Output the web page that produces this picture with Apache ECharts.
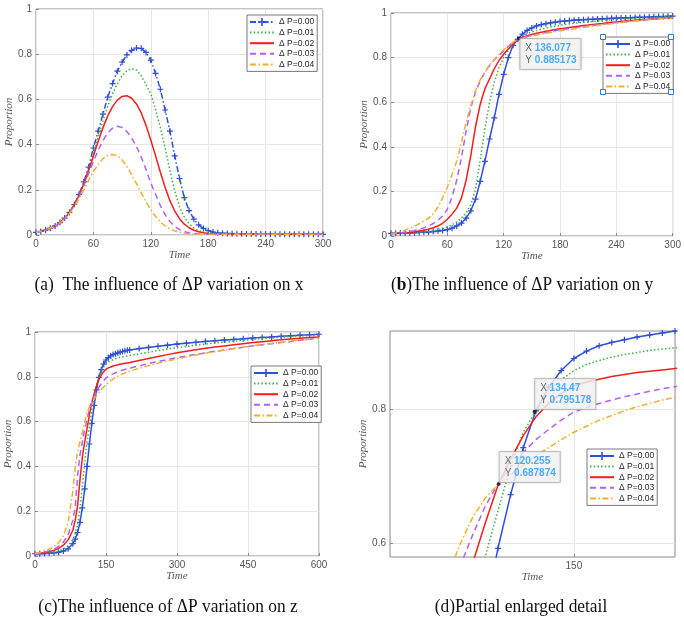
<!DOCTYPE html>
<html>
<head>
<meta charset="utf-8">
<script src="https://cdn.jsdelivr.net/npm/echarts@6/dist/echarts.min.js"></script>
<style>
html, body { margin: 0; padding: 0; background: #fff; }
#main { width: 684px; height: 619px; }
</style>
</head>
<body>
<div id="main"></div>
<script>
// legend names, one per dP value
var legendNames = ['Δ P=0.00', 'Δ P=0.01', 'Δ P=0.02', 'Δ P=0.03', 'Δ P=0.04'];

// time axis for (a) and (b)
var tAB = [0,5,10,15,20,25,30,35,40,45,50,55,60,65,70,75,80,85,90,95,100,105,110,115,120,125,130,135,140,145,
  150,155,160,165,170,175,180,185,190,195,200,205,210,215,220,225,230,235,240,245,250,255,260,265,270,275,280,285,290,295,300];

// (a) proportion x
var xP000 = [0.012,0.016,0.022,0.030,0.040,0.055,0.075,0.100,0.135,0.180,
  0.235,0.300,0.385,0.460,0.535,0.610,0.670,0.725,0.765,0.797,
  0.817,0.827,0.826,0.808,0.774,0.715,0.645,0.553,0.460,0.350,
  0.250,0.165,0.108,0.070,0.045,0.029,0.019,0.013,0.010,0.008,
  0.007,0.006,0.005,0.005,0.004,0.004,0.004,0.004,0.004,0.003,
  0.003,0.003,0.003,0.003,0.003,0.003,0.003,0.003,0.003,0.003,0.003];
var xP001 = [0.012,0.016,0.022,0.030,0.040,0.055,0.075,0.100,0.134,0.178,
  0.230,0.292,0.365,0.435,0.505,0.570,0.625,0.670,0.705,0.727,
  0.736,0.730,0.705,0.665,0.625,0.555,0.475,0.385,0.285,0.195,
  0.125,0.080,0.050,0.031,0.019,0.012,0.008,0.006,0.005,0.004,
  0.004,0.003,0.003,0.003,0.003,0.003,0.003,0.003,0.003,0.003,
  0.003,0.003,0.003,0.003,0.003,0.003,0.003,0.003,0.003,0.003,0.003];
var xP002 = [0.012,0.016,0.022,0.030,0.040,0.055,0.075,0.100,0.134,0.176,
  0.226,0.285,0.350,0.415,0.475,0.527,0.568,0.597,0.613,0.616,
  0.605,0.580,0.540,0.485,0.420,0.350,0.278,0.210,0.152,0.106,
  0.072,0.048,0.032,0.021,0.014,0.010,0.007,0.005,0.004,0.004,
  0.003,0.003,0.003,0.003,0.003,0.003,0.003,0.003,0.003,0.003,
  0.003,0.003,0.003,0.003,0.003,0.003,0.003,0.003,0.003,0.003,0.003];
var xP003 = [0.012,0.016,0.022,0.030,0.040,0.054,0.073,0.098,0.130,0.170,
  0.218,0.272,0.325,0.375,0.418,0.452,0.473,0.481,0.476,0.458,
  0.430,0.392,0.345,0.290,0.230,0.180,0.130,0.090,0.060,0.038,
  0.024,0.015,0.010,0.007,0.005,0.004,0.003,0.003,0.003,0.003,
  0.003,0.003,0.003,0.003,0.003,0.003,0.003,0.003,0.003,0.003,
  0.003,0.003,0.003,0.003,0.003,0.003,0.003,0.003,0.003,0.003,0.003];
var xP004 = [0.012,0.016,0.022,0.030,0.040,0.053,0.071,0.095,0.125,0.160,
  0.200,0.242,0.280,0.313,0.338,0.352,0.356,0.350,0.332,0.303,
  0.267,0.227,0.186,0.147,0.112,0.082,0.058,0.040,0.027,0.018,
  0.012,0.008,0.006,0.004,0.003,0.003,0.003,0.003,0.003,0.003,
  0.003,0.003,0.003,0.003,0.003,0.003,0.003,0.003,0.003,0.003,
  0.003,0.003,0.003,0.003,0.003,0.003,0.003,0.003,0.003,0.003,0.003];

// (b) proportion y
var yP000 = [0.012,0.012,0.013,0.013,0.014,0.015,0.016,0.017,0.018,0.020,
  0.022,0.025,0.029,0.035,0.045,0.058,0.080,0.113,0.165,0.245,
  0.335,0.435,0.530,0.635,0.725,0.800,0.855,0.882,0.905,0.922,
  0.933,0.942,0.948,0.952,0.956,0.959,0.962,0.964,0.966,0.968,
  0.969,0.970,0.971,0.972,0.973,0.974,0.975,0.976,0.977,0.978,
  0.978,0.979,0.980,0.981,0.981,0.982,0.983,0.984,0.984,0.985,0.986];
var yP001 = [0.010,0.011,0.011,0.012,0.013,0.014,0.016,0.018,0.020,0.023,
  0.027,0.033,0.040,0.050,0.063,0.080,0.105,0.140,0.210,0.340,
  0.480,0.600,0.690,0.755,0.800,0.835,0.860,0.882,0.897,0.907,
  0.915,0.921,0.927,0.932,0.937,0.941,0.945,0.948,0.951,0.954,
  0.956,0.958,0.960,0.962,0.964,0.966,0.968,0.970,0.971,0.973,
  0.974,0.975,0.976,0.977,0.978,0.979,0.980,0.982,0.983,0.985,0.986];
var yP002 = [0.010,0.011,0.012,0.014,0.016,0.019,0.022,0.026,0.030,0.037,
  0.045,0.057,0.075,0.098,0.125,0.170,0.250,0.360,0.490,0.590,
  0.660,0.705,0.750,0.787,0.815,0.840,0.860,0.881,0.891,0.898,
  0.904,0.909,0.914,0.918,0.922,0.926,0.929,0.932,0.935,0.938,
  0.941,0.944,0.946,0.949,0.951,0.953,0.956,0.958,0.960,0.962,
  0.964,0.965,0.967,0.969,0.970,0.972,0.974,0.975,0.977,0.978,0.980];
var yP003 = [0.010,0.012,0.014,0.017,0.020,0.024,0.030,0.037,0.045,0.056,
  0.070,0.090,0.120,0.175,0.250,0.350,0.470,0.575,0.645,0.695,
  0.735,0.765,0.790,0.810,0.830,0.850,0.866,0.882,0.889,0.895,
  0.900,0.905,0.909,0.913,0.917,0.921,0.924,0.927,0.930,0.933,
  0.936,0.939,0.942,0.944,0.947,0.950,0.952,0.955,0.957,0.959,
  0.961,0.963,0.965,0.967,0.969,0.970,0.972,0.974,0.976,0.977,0.979];
var yP004 = [0.010,0.014,0.020,0.027,0.035,0.044,0.055,0.067,0.080,0.100,
  0.130,0.170,0.220,0.275,0.335,0.420,0.510,0.585,0.650,0.700,
  0.735,0.765,0.790,0.815,0.835,0.853,0.869,0.882,0.887,0.892,
  0.897,0.901,0.905,0.909,0.913,0.916,0.920,0.923,0.926,0.929,
  0.932,0.935,0.938,0.941,0.944,0.947,0.950,0.952,0.955,0.957,
  0.960,0.962,0.964,0.966,0.968,0.970,0.972,0.974,0.975,0.977,0.978];

// time axis for (c) and (d)
var tCD = [0,10,20,30,40,50,60,70,80,85,90,95,100,105,110,115,120,125,130,135,140,145,150,155,160,165,170,175,180,185,190,195,200,
  220,240,260,280,300,320,340,360,380,400,420,440,460,480,500,520,540,560,580,600];

// (c) proportion z, (d) is a zoom of the same curves
var zP000 = [0.010,0.010,0.011,0.012,0.014,0.017,0.022,0.032,0.055,
  0.075,0.105,0.150,0.215,0.300,0.400,0.500,0.592,0.672,0.742,0.797,0.832,0.857,0.875,0.886,0.894,0.899,0.903,0.907,0.910,0.913,0.916,0.918,0.920,
  0.926,0.931,0.936,0.941,0.946,0.950,0.954,0.958,0.961,0.964,0.967,0.970,0.973,0.976,0.978,0.981,0.983,0.986,0.988,0.990];
var zP001 = [0.010,0.011,0.012,0.014,0.017,0.022,0.030,0.045,0.075,
  0.100,0.140,0.210,0.310,0.420,0.510,0.580,0.648,0.715,0.765,0.797,0.823,0.843,0.857,0.866,0.872,0.877,0.881,0.884,0.887,0.889,0.891,0.893,0.895,
  0.903,0.910,0.917,0.924,0.930,0.936,0.941,0.946,0.951,0.955,0.959,0.963,0.967,0.971,0.974,0.977,0.980,0.982,0.984,0.986];
var zP002 = [0.010,0.012,0.015,0.019,0.025,0.034,0.048,0.072,0.115,
  0.160,0.225,0.340,0.440,0.510,0.570,0.630,0.686,0.725,0.760,0.788,0.808,0.823,0.834,0.840,0.844,0.848,0.851,0.854,0.856,0.858,0.860,0.862,0.864,
  0.873,0.882,0.891,0.899,0.907,0.914,0.921,0.927,0.933,0.938,0.943,0.948,0.953,0.957,0.961,0.965,0.969,0.972,0.975,0.978];
var zP003 = [0.010,0.013,0.017,0.023,0.031,0.043,0.062,0.095,0.160,
  0.220,0.360,0.450,0.510,0.565,0.612,0.655,0.688,0.713,0.735,0.754,0.769,0.783,0.795,0.802,0.808,0.813,0.818,0.822,0.826,0.830,0.833,0.836,0.839,
  0.849,0.859,0.868,0.877,0.885,0.893,0.900,0.907,0.914,0.920,0.926,0.932,0.938,0.943,0.948,0.953,0.958,0.963,0.968,0.972];
var zP004 = [0.010,0.015,0.021,0.030,0.042,0.060,0.090,0.150,0.290,
  0.400,0.465,0.510,0.550,0.598,0.638,0.667,0.687,0.702,0.716,0.730,0.742,0.754,0.765,0.774,0.783,0.790,0.797,0.803,0.808,0.813,0.817,0.821,0.825,
  0.838,0.850,0.861,0.871,0.880,0.889,0.897,0.905,0.912,0.919,0.926,0.932,0.938,0.944,0.949,0.954,0.959,0.964,0.968,0.972];

// data tips shown in the figure
var tipB = [136.077, 0.885173];
var tipD1 = [134.47, 0.795178];
var tipD2 = [120.255, 0.687874];

// tick values
var ticksA = { min: 0, max: 300, interval: 60 };
var ticksC = { min: 0, max: 600, interval: 150 };
var ticksDx = [150];
var ticksDy = [0.6, 0.8];
var rangeD = { xmin: 77.3, xmax: 190, ymin: 0.579, ymax: 0.916 };

var captions = [
  '(a)  The influence of ΔP variation on x',
  '({b|b})The influence of ΔP variation on y',
  '(c)The influence of ΔP variation on z',
  '(d)Partial enlarged detail'
];

var colors = ['#2f4fd4', '#3cb043', '#f41d1d', '#b060ff', '#eeb030'];
var dashes = ['solid', [1.5, 2.2], 'solid', [6, 4], [6, 2.5, 1.5, 2.5]];
var plusIcon = 'path://M4,0H6V4H10V6H6V10H4V6H0V4H4Z';
var boxColor = '#8a8a8a';
var sansFont = '"Liberation Sans", Arial, sans-serif';
var serifFont = '"Liberation Serif", "Times New Roman", serif';

function pairs(t, v) {
  return t.map(function (x, i) { return [x, v[i]]; });
}

function lineSeries(gi, t, list, blueType) {
  return list.map(function (v, k) {
    var s = {
      name: legendNames[k],
      type: 'line',
      xAxisIndex: gi,
      yAxisIndex: gi,
      data: pairs(t, v),
      symbol: 'none',
      silent: true,
      z: 2 + k,
      lineStyle: { color: colors[k], width: 1.5, type: dashes[k] },
      itemStyle: { color: colors[k] }
    };
    if (k === 0) {
      s.symbol = plusIcon;
      s.symbolSize = 6;
      s.showSymbol = true;
      s.showAllSymbol = true;
      s.lineStyle.type = blueType;
    }
    return s;
  });
}

function tipSeries(gi, pt, pos) {
  return {
    type: 'scatter',
    xAxisIndex: gi,
    yAxisIndex: gi,
    data: [pt],
    symbolSize: 4,
    silent: true,
    z: 20,
    itemStyle: { color: '#111' },
    label: {
      show: true,
      position: pos,
      backgroundColor: '#f8f8f8',
      borderColor: '#b8b8b8',
      borderWidth: 1,
      padding: [3, 4, 3, 5],
      shadowColor: 'rgba(0,0,0,0.15)',
      shadowBlur: 3,
      formatter: function (p) {
        return '{k|X }{v|' + p.value[0] + '}\n{k|Y }{v|' + p.value[1] + '}';
      },
      rich: {
        k: { color: '#444', fontSize: 10, fontFamily: sansFont, lineHeight: 12 },
        v: { color: '#1e9bff', fontSize: 10, fontWeight: 'bold', fontFamily: sansFont, lineHeight: 12 }
      }
    }
  };
}

function xAxisOf(gi, extra) {
  var ax = {
    type: 'value',
    gridIndex: gi,
    name: 'Time',
    nameLocation: 'middle',
    nameGap: 15,
    nameTextStyle: { fontFamily: serifFont, fontStyle: 'italic', fontSize: 11, color: '#555' },
    axisLine: { show: false },
    axisTick: { show: true, inside: true, length: 3, lineStyle: { color: boxColor } },
    axisLabel: { color: '#555', fontSize: 10, margin: 4, fontFamily: sansFont },
    splitLine: { show: true, lineStyle: { color: '#e6e6e6', width: 1 } }
  };
  return Object.assign(ax, extra);
}

function yAxisOf(gi, gap, extra) {
  var ax = {
    type: 'value',
    gridIndex: gi,
    name: 'Proportion',
    nameLocation: 'middle',
    nameGap: gap,
    nameTextStyle: { fontFamily: serifFont, fontStyle: 'italic', fontSize: 11, color: '#555' },
    axisLine: { show: false },
    axisTick: { show: true, inside: true, length: 3, lineStyle: { color: boxColor } },
    axisLabel: { color: '#555', fontSize: 10, margin: 4, fontFamily: sansFont },
    splitLine: { show: true, lineStyle: { color: '#e6e6e6', width: 1 } }
  };
  return Object.assign(ax, extra);
}

function legendOf(left, top, solidBlue) {
  var data = legendNames.map(function (n, k) {
    if (k === 0) {
      return solidBlue ? { name: n, lineStyle: { type: 'solid' } } : { name: n };
    }
    // plain lines: no symbol in the legend sample
    return { name: n, itemStyle: { opacity: 0 } };
  });
  return {
    data: data,
    orient: 'vertical',
    left: left,
    top: top,
    itemWidth: 24,
    itemHeight: 10,
    itemGap: 0.6,
    padding: [2, 3, 2, 2],
    backgroundColor: '#fff',
    borderColor: '#555',
    borderWidth: 0.8,
    selectedMode: false,
    textStyle: { fontSize: 8.5, lineHeight: 10, color: '#222', fontFamily: sansFont }
  };
}

var gridBase = { show: true, borderColor: boxColor, borderWidth: 1, backgroundColor: 'transparent', containLabel: false };

var series = []
  .concat(lineSeries(0, tAB, [xP000, xP001, xP002, xP003, xP004], [6, 2.5, 1.5, 2.5]))
  .concat(lineSeries(1, tAB, [yP000, yP001, yP002, yP003, yP004], 'solid'))
  .concat(lineSeries(2, tCD, [zP000, zP001, zP002, zP003, zP004], 'solid'))
  .concat(lineSeries(3, tCD, [zP000, zP001, zP002, zP003, zP004], 'solid'));
series.push(tipSeries(1, tipB, [3.6, 2.4]));
series.push(tipSeries(3, tipD1, [2.6, -31]));
series.push(tipSeries(3, tipD2, [3, -30]));

// little blue handles round the selected legend of (b)
var handleXY = [[603, 37], [671, 37], [603, 92], [671, 92]];
var handles = handleXY.map(function (p) {
  return {
    type: 'rect',
    shape: { x: p[0] - 2.5, y: p[1] - 2.5, width: 5, height: 5 },
    style: { fill: '#fff', stroke: '#2f7bc4', lineWidth: 1 },
    z: 50
  };
});

var capPos = [[169, 285], [522, 285], [168, 607], [521, 607]];
var capText = captions.map(function (c, i) {
  return {
    type: 'text',
    x: capPos[i][0],
    y: capPos[i][1],
    scaleX: 0.915,
    style: {
      text: c,
      fontFamily: serifFont,
      fontSize: 19,
      fill: '#111',
      align: 'center',
      verticalAlign: 'middle',
      rich: { b: { fontFamily: serifFont, fontSize: 19, fontWeight: 'bold', fill: '#111' } }
    }
  };
});

var option = {
  animation: false,
  backgroundColor: '#fff',
  grid: [
    Object.assign({ left: 36, top: 9, width: 287, height: 226 }, gridBase),
    Object.assign({ left: 391, top: 13, width: 283, height: 223 }, gridBase),
    Object.assign({ left: 35, top: 332, width: 284, height: 224 }, gridBase),
    Object.assign({ left: 390, top: 331, width: 285, height: 226 }, gridBase)
  ],
  xAxis: [
    xAxisOf(0, ticksA),
    xAxisOf(1, ticksA),
    xAxisOf(2, ticksC),
    xAxisOf(3, {
      min: rangeD.xmin, max: rangeD.xmax,
      axisTick: { show: true, inside: true, length: 3, lineStyle: { color: boxColor }, customValues: ticksDx },
      axisLabel: { color: '#555', fontSize: 10, margin: 4, fontFamily: sansFont, customValues: ticksDx }
    })
  ],
  yAxis: [
    yAxisOf(0, 20, { min: 0, max: 1, interval: 0.2 }),
    yAxisOf(1, 20, { min: 0, max: 1, interval: 0.2 }),
    yAxisOf(2, 16, { min: 0, max: 1, interval: 0.2 }),
    yAxisOf(3, 20, {
      min: rangeD.ymin, max: rangeD.ymax,
      axisTick: { show: true, inside: true, length: 3, lineStyle: { color: boxColor }, customValues: ticksDy },
      axisLabel: { color: '#555', fontSize: 10, margin: 4, fontFamily: sansFont, customValues: ticksDy }
    })
  ],
  legend: [
    legendOf(247, 15, false),
    legendOf(603, 37, true),
    legendOf(251, 366, true),
    legendOf(587, 449, true)
  ],
  series: series,
  graphic: handles.concat(capText)
};

var chart = echarts.init(document.getElementById('main'), null, { renderer: 'canvas' });
chart.setOption(option);
</script>
</body>
</html>
